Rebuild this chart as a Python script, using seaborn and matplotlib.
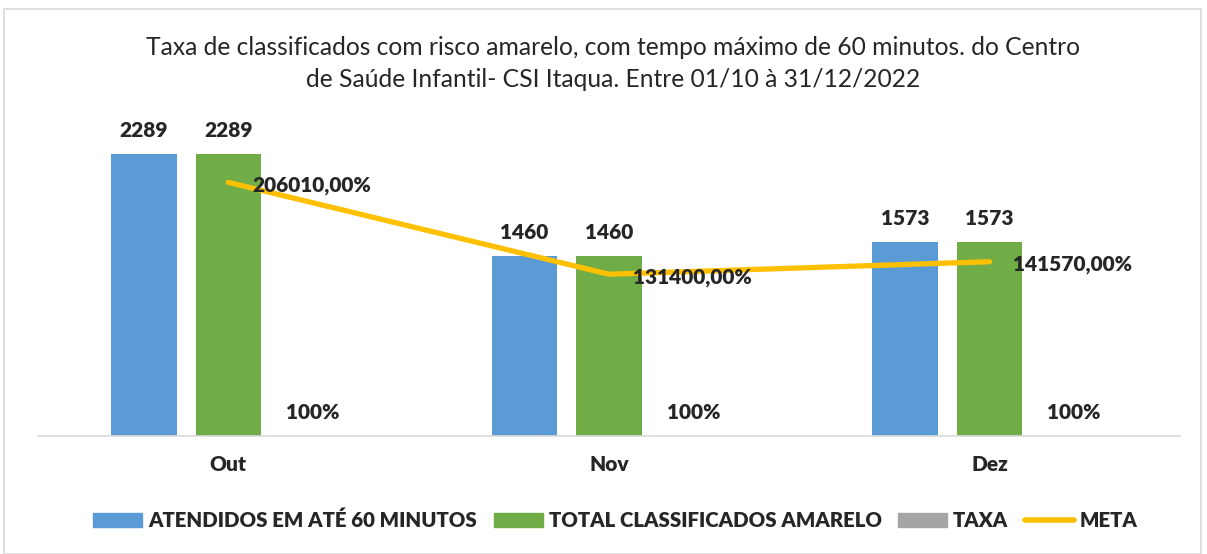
import numpy as np
import pandas as pd
import matplotlib.pyplot as plt
import seaborn as sns
from matplotlib.patches import Patch, Rectangle
from matplotlib.lines import Line2D

# dados do gráfico
meses = ['Out', 'Nov', 'Dez']
atendidos = [2289, 1460, 1573]
total_amarelo = [2289, 1460, 1573]
taxa = [1.0, 1.0, 1.0]
meta = [2060.10, 1314.00, 1415.70]

series = ['ATENDIDOS EM ATÉ 60 MINUTOS', 'TOTAL CLASSIFICADOS AMARELO', 'TAXA']
cores = ['#5B9BD5', '#70AD47', '#A5A5A5']
cor_meta = '#FFC000'

df = pd.DataFrame({
    'mes': meses * 3,
    'serie': np.repeat(series, len(meses)),
    'valor': atendidos + total_amarelo + taxa,
})

sns.set_style('white')
plt.rcParams['font.family'] = ['Lato', 'DejaVu Sans']
peso = 'heavy'

fig = plt.figure(figsize=(12.07, 5.54), dpi=100)
ax = fig.add_axes([0.0315, 0.213, 0.946, 0.588])

sns.barplot(data=df, x='mes', y='valor', hue='serie', hue_order=series,
            palette=cores, saturation=1, width=0.666, gap=0.225, errorbar=None,
            linewidth=0, legend=False, ax=ax)

rotulos = [[str(v) for v in atendidos],
           [str(v) for v in total_amarelo],
           [f'{v:.0%}' for v in taxa]]
for cont, labs in zip(ax.containers, rotulos):
    ax.bar_label(cont, labels=labs, padding=10, fontsize=15, fontweight=peso)

sns.lineplot(x=np.arange(len(meses)), y=meta, color=cor_meta, linewidth=3.8,
             solid_capstyle='round', ax=ax)
for i, v in enumerate(meta):
    txt = f'{v * 100:.2f}'.replace('.', ',') + '%'
    ax.annotate(txt, (i, v), xytext=(17, -2), textcoords='offset points',
                ha='left', va='center', fontsize=15, fontweight=peso)

ax.set_xlim(-0.5, 2.5)
ax.set_ylim(0, 2646)
ax.set_xlabel('')
ax.set_ylabel('')
ax.set_yticks([])
for s in ['left', 'top', 'right']:
    ax.spines[s].set_visible(False)
ax.spines['bottom'].set_color('#d9d9d9')
ax.spines['bottom'].set_linewidth(1.2)
ax.tick_params(axis='x', length=0, pad=14, labelsize=15)
for t in ax.get_xticklabels():
    t.set_fontweight(peso)

fig.text(0.508, 0.915, 'Taxa de classificados com risco amarelo, com tempo máximo de 60 minutos. do Centro',
         ha='center', va='center', fontsize=17.7)
fig.text(0.508, 0.856, 'de Saúde Infantil- CSI Itaqua. Entre 01/10 à 31/12/2022',
         ha='center', va='center', fontsize=17.7)

handles = [Patch(color=c) for c in cores] + [Line2D([], [], color=cor_meta, linewidth=4)]
fig.legend(handles, series + ['META'], loc='center', bbox_to_anchor=(0.51, 0.061),
           ncol=4, frameon=False, prop={'weight': peso, 'size': 14.7},
           handlelength=2.4, handleheight=0.7, handletextpad=0.3, columnspacing=0.8)

fig.patches.append(Rectangle((0.003, 0.0), 0.992, 0.984, transform=fig.transFigure,
                             fill=False, edgecolor='#d9d9d9', linewidth=1.2))

fig.savefig('out.png', dpi=100)
